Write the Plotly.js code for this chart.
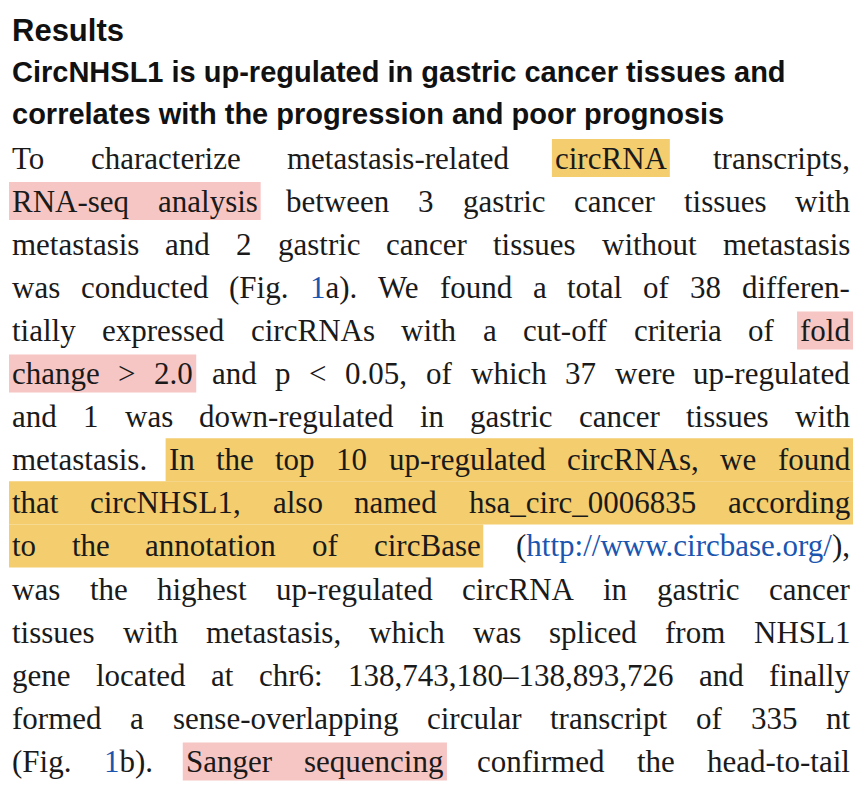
<!DOCTYPE html>
<html>
<head>
<meta charset="utf-8">
<script src="https://cdn.plot.ly/plotly-3.0.1.min.js"></script>
<style>
  html, body { margin: 0; padding: 0; background: #fff; }
  #page { width: 858px; height: 786px; }
</style>
</head>
<body>
<div id="page"></div>
<script>
/* ── 1. TEXT CONTENT ─────────────────────────────────────── */
const heading    = "Results";
const subHeading = [
    "CircNHSL1 is up-regulated in gastric cancer tissues and",
    "correlates with the progression and poor prognosis"
];
// {..} marks blue link text
const bodyLines = [
    "To characterize metastasis-related circRNA transcripts,",
    "RNA-seq analysis between 3 gastric cancer tissues with",
    "metastasis and 2 gastric cancer tissues without metastasis",
    "was conducted (Fig. {1}a). We found a total of 38 differen-",
    "tially expressed circRNAs with a cut-off criteria of fold",
    "change > 2.0 and p < 0.05, of which 37 were up-regulated",
    "and 1 was down-regulated in gastric cancer tissues with",
    "metastasis. In the top 10 up-regulated circRNAs, we found",
    "that circNHSL1, also named hsa_circ_0006835 according",
    "to the annotation of circBase ({http://www.circbase.org/}),",
    "was the highest up-regulated circRNA in gastric cancer",
    "tissues with metastasis, which was spliced from NHSL1",
    "gene located at chr6: 138,743,180–138,893,726 and finally",
    "formed a sense-overlapping circular transcript of 335 nt",
    "(Fig. {1}b). Sanger sequencing confirmed the head-to-tail"
];
// [line, first word, last word, colour]
const highlights = [
    [0, 3, 3, "yellow"],
    [1, 0, 1, "pink"],
    [4, 8, 8, "pink"],
    [5, 0, 2, "pink"],
    [7, 1, 8, "yellow"],
    [8, 0, 5, "yellow"],
    [9, 0, 4, "yellow"],
    [14, 2, 3, "pink"]
];

/* ── 2. STYLE ────────────────────────────────────────────── */
const colors = { yellow: "#f3cd6e", pink: "#f6c6c4", blue: "#1a55b0", text: "#1a1a1a" };
const left = 12, right = 850, firstY = 158, lineGap = 43.1;
const bodyFont = { family: "Liberation Serif", size: 31, color: colors.text };

const ctx = document.createElement("canvas").getContext("2d");
ctx.font = bodyFont.size + "px '" + bodyFont.family + "'";

const annotations = [];
const shapes = [];

annotations.push({ x: left, y: 30, text: "<b>" + heading + "</b>",
    font: { family: "Liberation Sans", size: 31, color: "#111" } });
subHeading.forEach((t, i) => annotations.push({ x: left, y: 72 + i * 42, text: "<b>" + t + "</b>",
    font: { family: "Liberation Sans", size: 29, color: "#111" } }));

/* ── 3. JUSTIFIED BODY ───────────────────────────────────── */
bodyLines.forEach((line, li) => {
    const words = line.split(" ");
    const widths = words.map(w => ctx.measureText(w.replace(/[{}]/g, "")).width);
    const total = widths.reduce((a, b) => a + b, 0);
    const gap = (right - left - total) / (words.length - 1);
    const y = firstY + li * lineGap;
    const xs = [];
    let x = left;
    words.forEach((w, wi) => {
        xs.push(x);
        const html = w.replace(/\{([^}]*)\}/g, '<span style="color:' + colors.blue + '">$1</span>');
        annotations.push({ x: x, y: y, text: html, font: bodyFont });
        x += widths[wi] + gap;
    });
    highlights.filter(h => h[0] === li).forEach(h => {
        const tall = h[3] === "yellow" && li >= 7 && li <= 9;
        shapes.push({
            type: "rect", layer: "below", line: { width: 0 }, fillcolor: colors[h[3]],
            x0: xs[h[1]] - 3, x1: xs[h[2]] + widths[h[2]] + 3,
            y0: y - (tall ? 21.5 : 19), y1: y + (tall ? 21.6 : 19)
        });
    });
});

annotations.forEach(a => Object.assign(a, {
    xref: "x", yref: "y", xanchor: "left", yanchor: "middle",
    showarrow: false, borderpad: 0, borderwidth: 0
}));

const layout = {
    width: 858, height: 786,
    margin: { t: 0, b: 0, l: 0, r: 0 },
    paper_bgcolor: "#ffffff", plot_bgcolor: "#ffffff",
    xaxis: { range: [0, 858], visible: false, fixedrange: true },
    yaxis: { range: [786, 0], visible: false, fixedrange: true },
    showlegend: false,
    annotations: annotations,
    shapes: shapes
};

Plotly.newPlot("page", [], layout, { displayModeBar: false, staticPlot: true });
</script>
</body>
</html>
